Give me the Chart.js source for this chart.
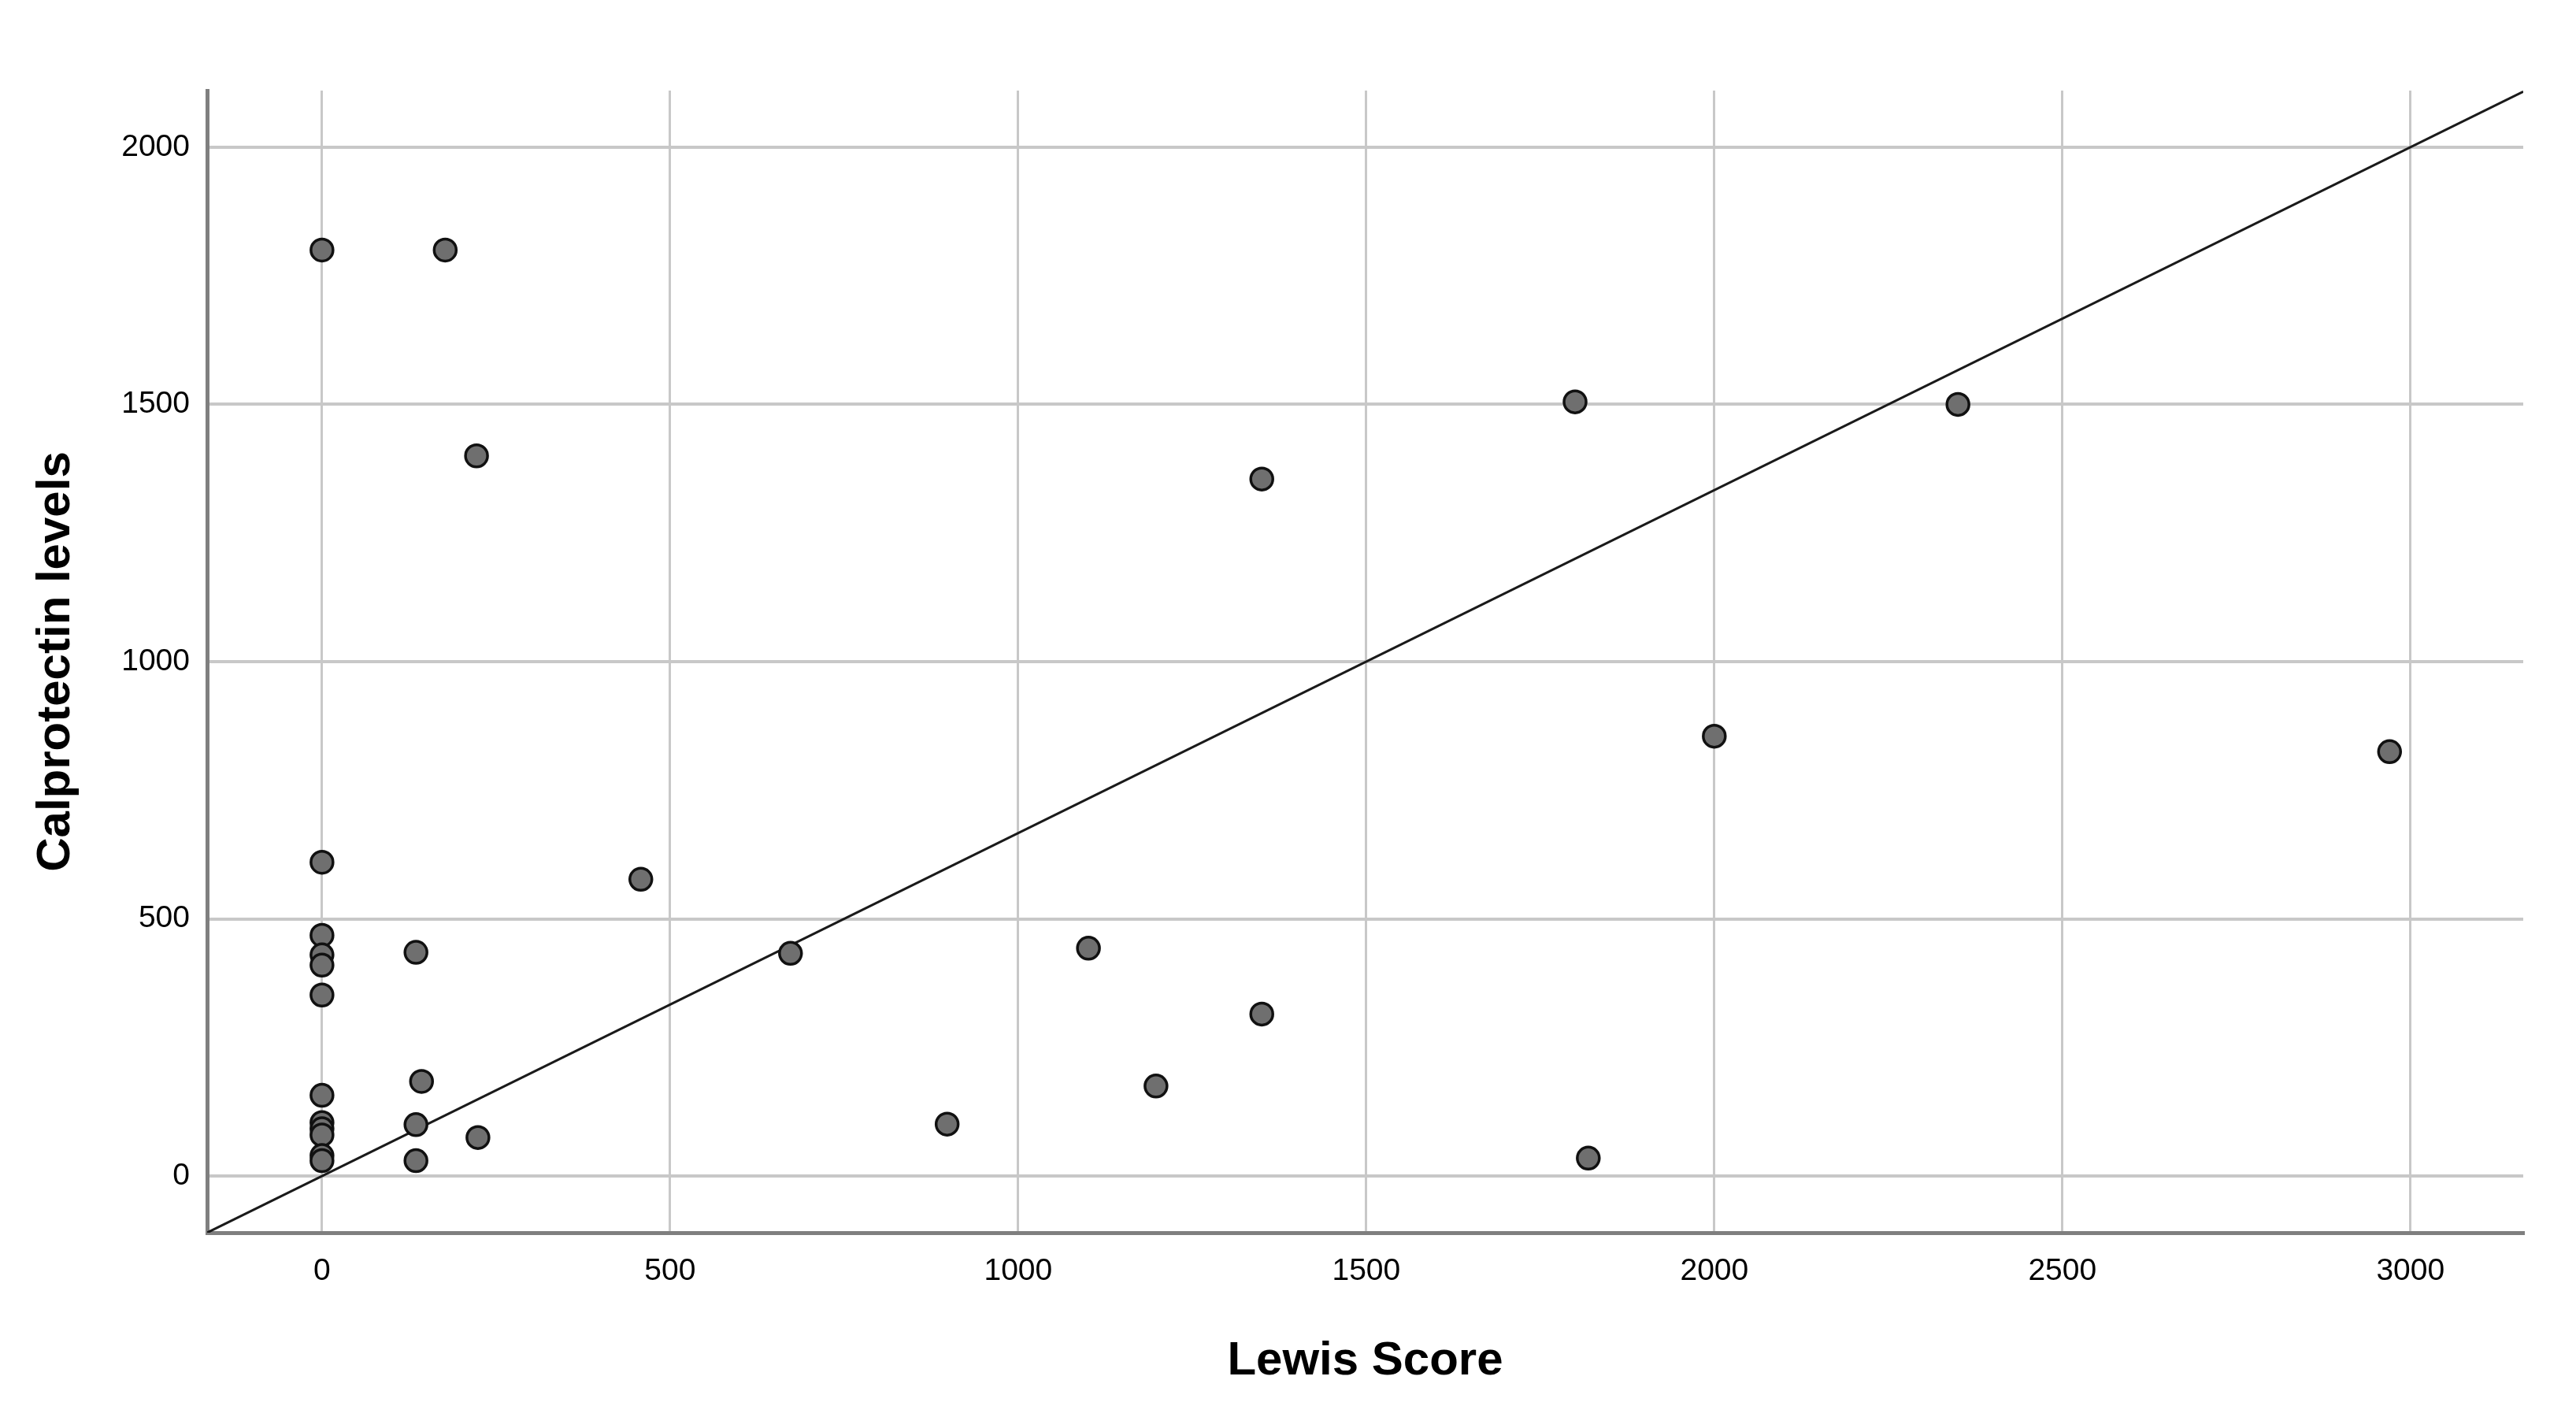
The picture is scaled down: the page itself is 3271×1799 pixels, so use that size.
<!DOCTYPE html>
<html lang="en">
<head>
    <meta charset="UTF-8">
    <title>Lewis Score vs Calprotectin</title>
    <script src="https://cdn.jsdelivr.net/npm/chart.js@4.4.1/dist/chart.umd.min.js"></script>
    <style>
        body {
            margin: 0;
            background: #ffffff;
        }
        #wrap {
            width: 3271px;
            height: 1799px;
        }
    </style>
</head>
<body>
    <div id="wrap">
        <canvas id="myChart" width="3271" height="1799"></canvas>
    </div>

<script>
// Lewis Score (x) and Calprotectin levels (y)
const lewisScore = [0, 177, 222, 1800, 2350, 1350, 2000, 2970,
                    0, 458, 0, 0, 0, 135, 673, 1101, 0, 1350,
                    0, 143, 1198, 0, 0, 0, 135, 898, 224,
                    0, 0, 135, 1819];
const calprotectin = [1800, 1800, 1400, 1505, 1500, 1355, 855, 825,
                      610, 577, 468, 430, 410, 435, 433, 443, 352, 315,
                      157, 184, 175, 104, 92, 80, 100, 101, 75,
                      40, 30, 30, 35];

const xTicks = [0, 500, 1000, 1500, 2000, 2500, 3000];
const yTicks = [0, 500, 1000, 1500, 2000];

const xMin = -165, xMax = 3162;
const yMin = -110, yMax = 2110;
const refSlope = 2 / 3;   // reference line through the origin

const points = lewisScore.map((x, i) => ({ x: x, y: calprotectin[i] }));
const refLine = [
  { x: xMin, y: xMin * refSlope },
  { x: xMax, y: xMax * refSlope }
];

const tickFont = { family: "'Liberation Sans', Arial, sans-serif", size: 39 };
const titleFont = { family: "'Liberation Sans', Arial, sans-serif", size: 60, weight: 'bold' };

new Chart("myChart", {
  type: "scatter",
  data: {
    datasets: [{
      data: points,
      backgroundColor: "#6f6f6f",
      borderColor: "#111111",
      borderWidth: 3.5,
      pointRadius: 14,
      order: 1
    }, {
      type: "line",
      data: refLine,
      borderColor: "#1a1a1a",
      borderWidth: 3,
      pointRadius: 0,
      fill: false,
      order: 2
    }]
  },
  options: {
    responsive: false,
    devicePixelRatio: 1,
    animation: false,
    layout: { padding: { top: 115, right: 67, left: 0, bottom: 0 } },
    plugins: {
      legend: { display: false },
      tooltip: { enabled: false }
    },
    scales: {
      x: {
        type: "linear",
        min: xMin,
        max: xMax,
        afterFit: s => { s.height = 234; },
        afterBuildTicks: s => { s.ticks = xTicks.map(v => ({ value: v })); },
        ticks: {
          color: "#000",
          font: tickFont,
          padding: 26,
          maxRotation: 0,
          callback: v => String(v)
        },
        grid: { color: "#c8c8c8", lineWidth: 3, drawTicks: false },
        border: { color: "#7f7f7f", width: 5 },
        title: {
          display: true,
          text: "Lewis Score",
          color: "#000",
          font: titleFont,
          padding: { top: 0, bottom: 35 }
        }
      },
      y: {
        type: "linear",
        min: yMin,
        max: yMax,
        afterFit: s => { s.width = 263; },
        afterBuildTicks: s => { s.ticks = yTicks.map(v => ({ value: v })); },
        ticks: {
          color: "#000",
          font: tickFont,
          padding: 22,
          callback: v => String(v)
        },
        grid: { color: "#c8c8c8", lineWidth: 4, drawTicks: false },
        border: { color: "#7f7f7f", width: 5 },
        title: {
          display: true,
          text: "Calprotectin levels",
          color: "#000",
          font: titleFont,
          padding: { top: 35, bottom: 0 }
        }
      }
    }
  }
});
</script>
</body>
</html>
